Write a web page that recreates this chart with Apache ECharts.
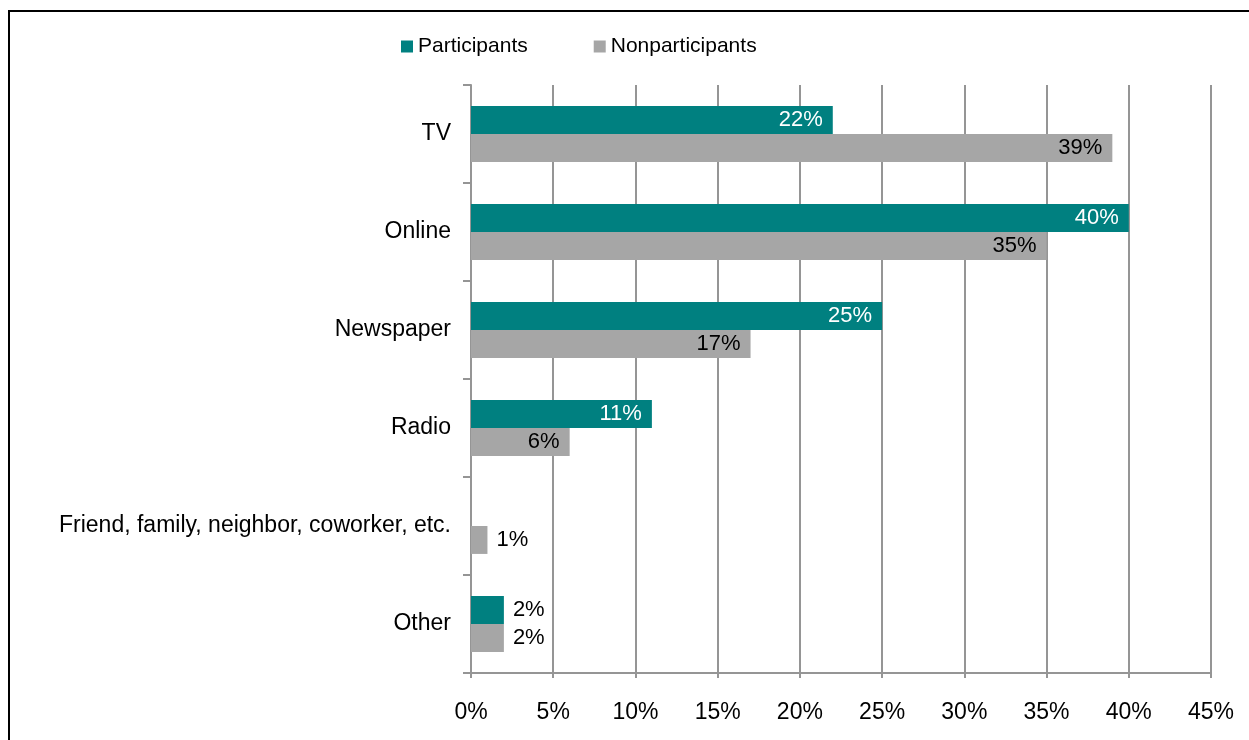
<!DOCTYPE html>
<html>
<head>
<meta charset="utf-8">
<title>Information sources</title>
<script src="https://cdn.jsdelivr.net/npm/echarts@6/dist/echarts.min.js"></script>
<style>
  html, body { margin: 0; padding: 0; background: #ffffff; }
  #chart { width: 1249px; height: 740px; }
</style>
</head>
<body>
<div id="chart"></div>
<script>
// Categories, top to bottom
const categories = ['TV', 'Online', 'Newspaper', 'Radio', 'Friend, family, neighbor, coworker, etc.', 'Other'];
// Share of respondents (%) per source
const participants = [22, 40, 25, 11, 0, 2];
const nonparticipants = [39, 35, 17, 6, 1, 2];
// Axis tick values (%)
const xTicks = [0, 5, 10, 15, 20, 25, 30, 35, 40, 45];

const FONT = '"Liberation Sans", Arial, sans-serif';
const TEAL = '#008080';
const GREY = '#a6a6a6';
const AXIS_GREY = '#959595';

// Long bars carry their label inside at the end; short bars carry it just past the end
function barData(values, insideColor) {
  return values.map(v => ({
    value: v,
    label: v === 0 ? { show: false } :
      (v >= 5
        ? { position: 'insideRight', color: insideColor, distance: 10 }
        : { position: 'right', color: '#000000', distance: 9 })
  }));
}

const chart = echarts.init(document.getElementById('chart'), null, { renderer: 'canvas' });

chart.setOption({
  backgroundColor: '#ffffff',
  animation: false,
  textStyle: { fontFamily: FONT },
  graphic: [{
    type: 'rect',
    shape: { x: 9, y: 11, width: 1400, height: 900 },
    style: { fill: 'none', stroke: '#000000', lineWidth: 2 },
    silent: true
  }],
  legend: {
    left: 396,
    top: 31,
    icon: 'rect',
    itemWidth: 12,
    itemHeight: 12,
    itemGap: 66,
    textStyle: { fontFamily: FONT, fontSize: 21, color: '#000000' },
    data: ['Participants', 'Nonparticipants']
  },
  grid: {
    left: 471,
    right: 38,
    top: 85,
    bottom: 67,
    containLabel: false
  },
  xAxis: {
    type: 'value',
    min: xTicks[0],
    max: xTicks[xTicks.length - 1],
    interval: 5,
    axisLine: { show: true, lineStyle: { color: AXIS_GREY, width: 2 } },
    axisTick: { show: true, length: 5, lineStyle: { color: AXIS_GREY, width: 2 } },
    axisLabel: {
      margin: 28,
      fontFamily: FONT,
      fontSize: 23,
      color: '#000000',
      formatter: v => v + '%'
    },
    splitLine: { show: true, lineStyle: { color: AXIS_GREY, width: 2 } }
  },
  yAxis: {
    type: 'category',
    inverse: true,
    data: categories,
    axisLine: { show: true, lineStyle: { color: AXIS_GREY, width: 2 } },
    axisTick: { show: true, length: 8, inside: false, lineStyle: { color: AXIS_GREY, width: 2 } },
    axisLabel: {
      margin: 20,
      fontFamily: FONT,
      fontSize: 23,
      color: '#000000',
      padding: [4, 0, 0, 0]
    }
  },
  series: [
    {
      name: 'Participants',
      type: 'bar',
      data: barData(participants, '#ffffff'),
      itemStyle: { color: TEAL },
      barGap: '0%',
      barCategoryGap: '43%',
      label: {
        show: true,
        fontFamily: FONT,
        fontSize: 22,
        formatter: p => p.value + '%'
      }
    },
    {
      name: 'Nonparticipants',
      type: 'bar',
      data: barData(nonparticipants, '#000000'),
      itemStyle: { color: GREY },
      barGap: '0%',
      barCategoryGap: '43%',
      label: {
        show: true,
        fontFamily: FONT,
        fontSize: 22,
        formatter: p => p.value + '%'
      }
    }
  ]
});
</script>
</body>
</html>
